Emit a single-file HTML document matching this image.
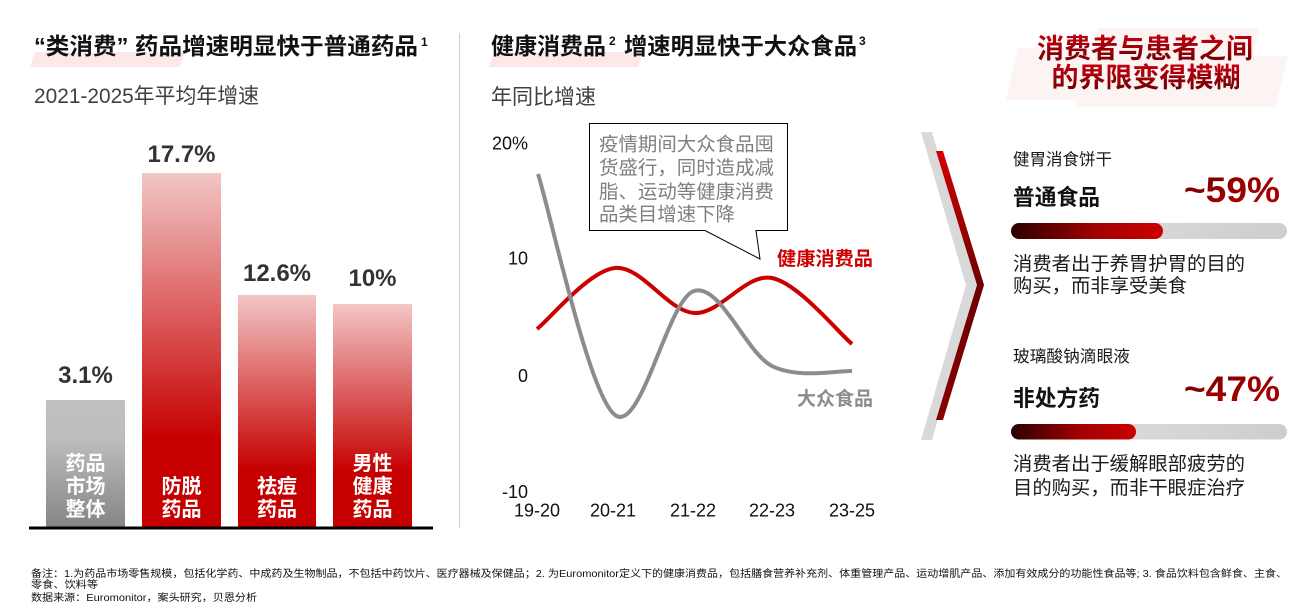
<!DOCTYPE html>
<html>
<head>
<meta charset="utf-8">
<style>
  html, body { margin:0; padding:0; background:#ffffff; }
  body { width:1316px; height:608px; overflow:hidden; }
  svg { display:block; }
  text { font-family: "Liberation Sans", "Noto Sans CJK SC", sans-serif; }
  .b { font-weight:bold; }
</style>
</head>
<body>
<svg width="1316" height="608" viewBox="0 0 1316 608" xmlns="http://www.w3.org/2000/svg">
  <defs>
    <linearGradient id="redBar" x1="0" y1="0" x2="0" y2="1">
      <stop offset="0" stop-color="#f3c6c6"/>
      <stop offset="0.75" stop-color="#c60000"/>
      <stop offset="1" stop-color="#c60000"/>
    </linearGradient>
    <linearGradient id="grayBar" x1="0" y1="0" x2="0" y2="1">
      <stop offset="0" stop-color="#c0c0c0"/>
      <stop offset="0.3" stop-color="#bdbdbd"/>
      <stop offset="1" stop-color="#858585"/>
    </linearGradient>
    <linearGradient id="chev" x1="0" y1="0" x2="0" y2="1">
      <stop offset="0" stop-color="#d40000"/>
      <stop offset="0.5" stop-color="#6e0000"/>
      <stop offset="1" stop-color="#860000"/>
    </linearGradient>
    <linearGradient id="fillBar" x1="0" y1="0" x2="1" y2="0">
      <stop offset="0" stop-color="#2a0000"/>
      <stop offset="0.55" stop-color="#a00000"/>
      <stop offset="1" stop-color="#cc0000"/>
    </linearGradient>
    <linearGradient id="track" x1="0" y1="0" x2="1" y2="0">
      <stop offset="0" stop-color="#e2e2e2"/>
      <stop offset="1" stop-color="#cdcdcd"/>
    </linearGradient>
    <linearGradient id="txtRed" x1="0" y1="0" x2="0" y2="1">
      <stop offset="0" stop-color="#c8000f"/>
      <stop offset="1" stop-color="#6a0000"/>
    </linearGradient>
    <linearGradient id="pctRed" x1="0" y1="0" x2="1" y2="1">
      <stop offset="0" stop-color="#6a0000"/>
      <stop offset="0.5" stop-color="#9a0000"/>
      <stop offset="1" stop-color="#b00000"/>
    </linearGradient>
  </defs>

  <!-- ============ LEFT PANEL ============ -->
  <polygon points="35,52 185,52 180,67 30,67" fill="#fde8e8"/>
  <text x="34" y="54" font-size="23" class="b" fill="#111" textLength="384" lengthAdjust="spacingAndGlyphs">“类消费” 药品增速明显快于普通药品</text>
  <text x="421" y="46" font-size="12" class="b" fill="#111">1</text>
  <text x="34" y="103" font-size="21" fill="#404040" textLength="225" lengthAdjust="spacingAndGlyphs">2021-2025年平均年增速</text>

  <!-- bars -->
  <rect x="46" y="400" width="79" height="128" fill="url(#grayBar)"/>
  <rect x="142" y="173" width="79" height="355" fill="url(#redBar)"/>
  <rect x="238" y="295" width="78" height="233" fill="url(#redBar)"/>
  <rect x="333" y="304" width="79" height="224" fill="url(#redBar)"/>
  <line x1="29" y1="528" x2="433" y2="528" stroke="#000" stroke-width="3"/>

  <!-- value labels -->
  <g font-size="24" class="b" fill="#333" text-anchor="middle">
    <text x="85.5" y="383">3.1%</text>
    <text x="181.5" y="162">17.7%</text>
    <text x="277" y="281">12.6%</text>
    <text x="372.5" y="286">10%</text>
  </g>
  <!-- bar inner labels -->
  <g font-size="20" class="b" fill="#ffffff" text-anchor="middle">
    <text x="85.5" y="470">药品</text>
    <text x="85.5" y="493">市场</text>
    <text x="85.5" y="516">整体</text>
    <text x="181.5" y="493">防脱</text>
    <text x="181.5" y="516">药品</text>
    <text x="277" y="493">祛痘</text>
    <text x="277" y="516">药品</text>
    <text x="372.5" y="470">男性</text>
    <text x="372.5" y="493">健康</text>
    <text x="372.5" y="516">药品</text>
  </g>

  <!-- divider -->
  <line x1="459.5" y1="33" x2="459.5" y2="528" stroke="#d0d0d0" stroke-width="1"/>

  <!-- ============ MIDDLE PANEL ============ -->
  <polygon points="494,52 643,52 638,67 489,67" fill="#fde8e8"/>
  <text x="491" y="54" font-size="23" class="b" fill="#111" textLength="115" lengthAdjust="spacingAndGlyphs">健康消费品</text>
  <text x="609" y="45" font-size="12" class="b" fill="#111">2</text>
  <text x="624" y="54" font-size="23" class="b" fill="#111" textLength="233" lengthAdjust="spacingAndGlyphs">增速明显快于大众食品</text>
  <text x="859" y="45" font-size="12" class="b" fill="#111">3</text>
  <text x="491" y="104" font-size="21" fill="#404040" textLength="105" lengthAdjust="spacingAndGlyphs">年同比增速</text>

  <!-- y axis labels -->
  <g font-size="18" fill="#111" text-anchor="end">
    <text x="528" y="149.5">20%</text>
    <text x="528" y="264.5">10</text>
    <text x="528" y="382">0</text>
    <text x="528" y="498">-10</text>
  </g>
  <!-- x axis labels -->
  <g font-size="18" fill="#111" text-anchor="middle">
    <text x="537" y="516.5">19-20</text>
    <text x="613" y="516.5">20-21</text>
    <text x="693" y="516.5">21-22</text>
    <text x="772" y="516.5">22-23</text>
    <text x="852" y="516.5">23-25</text>
  </g>

  <!-- red line -->
  <path d="M537,329 C550,318.8 588.8,270.7 615,268 C641.2,265.3 667.8,311.3 694,313 C720.2,314.7 745.7,272.8 772,278 C798.3,283.2 838.7,333 852,344"
        fill="none" stroke="#cc0000" stroke-width="4"/>
  <!-- gray line -->
  <path d="M538,174 C550.8,214.2 589,395.5 615,415 C641,434.5 667.8,299.2 694,291 C720.2,282.8 745.7,352.7 772,366 C798.3,379.3 838.7,370.2 852,371"
        fill="none" stroke="#8c8c8c" stroke-width="4"/>

  <!-- series labels -->
  <text x="777" y="265" font-size="19" class="b" fill="#cc0000" textLength="96" lengthAdjust="spacingAndGlyphs">健康消费品</text>
  <text x="797" y="405" font-size="19" class="b" fill="#8c8c8c" textLength="76" lengthAdjust="spacingAndGlyphs">大众食品</text>

  <!-- callout -->
  <path d="M589.5,123.5 H787.5 V230.5 H756 L760,259 L705,230.5 H589.5 Z" fill="#ffffff" stroke="#000" stroke-width="1"/>
  <g font-size="19" fill="#7f7f7f">
    <text x="599" y="150.5" textLength="175" lengthAdjust="spacingAndGlyphs">疫情期间大众食品囤</text>
    <text x="599" y="174" textLength="175" lengthAdjust="spacingAndGlyphs">货盛行，同时造成减</text>
    <text x="599" y="198" textLength="175" lengthAdjust="spacingAndGlyphs">脂、运动等健康消费</text>
    <text x="599" y="220.5" textLength="136" lengthAdjust="spacingAndGlyphs">品类目增速下降</text>
  </g>

  <!-- ============ RIGHT PANEL ============ -->
  <g fill="#f6d8d8" opacity="0.3">
    <polygon points="1018,48 1230,48 1218,100 1006,100"/>
    <polygon points="1098,28 1259,28 1247,80 1086,80"/>
    <polygon points="1088,56 1288,56 1275,107 1075,107"/>
  </g>
  <g font-size="27" class="b" fill="url(#txtRed)" text-anchor="middle">
    <text x="1145" y="58">消费者与患者之间</text>
    <text x="1146" y="87">的界限变得模糊</text>
  </g>

  <!-- chevron -->
  <polygon points="921,132 932,132 977,285 932,440 921,440 966,285" fill="#d9d9d9"/>
  <polygon points="936,151 943,151 984,285 943,420 936,420 977,285" fill="url(#chev)"/>

  <!-- item 1 -->
  <text x="1013" y="165" font-size="16.5" fill="#1a1a1a" textLength="99" lengthAdjust="spacingAndGlyphs">健胃消食饼干</text>
  <text x="1013" y="205" font-size="22" class="b" fill="#111" textLength="87" lengthAdjust="spacingAndGlyphs">普通食品</text>
  <text x="1280" y="202" font-size="35" class="b" fill="url(#pctRed)" text-anchor="end" textLength="96" lengthAdjust="spacingAndGlyphs">~59%</text>
  <rect x="1011" y="223" width="276" height="16" rx="8" fill="url(#track)"/>
  <rect x="1011" y="223" width="152" height="16" rx="8" fill="url(#fillBar)"/>
  <text x="1013" y="270" font-size="19" fill="#1a1a1a" textLength="232" lengthAdjust="spacingAndGlyphs">消费者出于养胃护胃的目的</text>
  <text x="1013" y="292" font-size="19" fill="#1a1a1a" textLength="174" lengthAdjust="spacingAndGlyphs">购买，而非享受美食</text>

  <!-- item 2 -->
  <text x="1013" y="362" font-size="16.5" fill="#1a1a1a" textLength="117" lengthAdjust="spacingAndGlyphs">玻璃酸钠滴眼液</text>
  <text x="1013" y="406" font-size="22" class="b" fill="#111" textLength="87" lengthAdjust="spacingAndGlyphs">非处方药</text>
  <text x="1280" y="401" font-size="35" class="b" fill="url(#pctRed)" text-anchor="end" textLength="96" lengthAdjust="spacingAndGlyphs">~47%</text>
  <rect x="1011" y="424" width="276" height="15.5" rx="7.75" fill="url(#track)"/>
  <rect x="1011" y="424" width="125" height="15.5" rx="7.75" fill="url(#fillBar)"/>
  <text x="1013" y="470" font-size="19" fill="#1a1a1a" textLength="232" lengthAdjust="spacingAndGlyphs">消费者出于缓解眼部疲劳的</text>
  <text x="1013" y="494" font-size="19" fill="#1a1a1a" textLength="232" lengthAdjust="spacingAndGlyphs">目的购买，而非干眼症治疗</text>

  <!-- ============ FOOTNOTES ============ -->
  <g font-size="10" fill="#111">
    <text x="31" y="577" textLength="1256" lengthAdjust="spacingAndGlyphs">备注：1.为药品市场零售规模，包括化学药、中成药及生物制品，不包括中药饮片、医疗器械及保健品；2. 为Euromonitor定义下的健康消费品，包括膳食营养补充剂、体重管理产品、运动增肌产品、添加有效成分的功能性食品等; 3. 食品饮料包含鲜食、主食、</text>
    <text x="31" y="588" textLength="67" lengthAdjust="spacingAndGlyphs">零食、饮料等</text>
    <text x="31" y="601" textLength="226" lengthAdjust="spacingAndGlyphs">数据来源：Euromonitor，案头研究，贝恩分析</text>
  </g>
</svg>
</body>
</html>
